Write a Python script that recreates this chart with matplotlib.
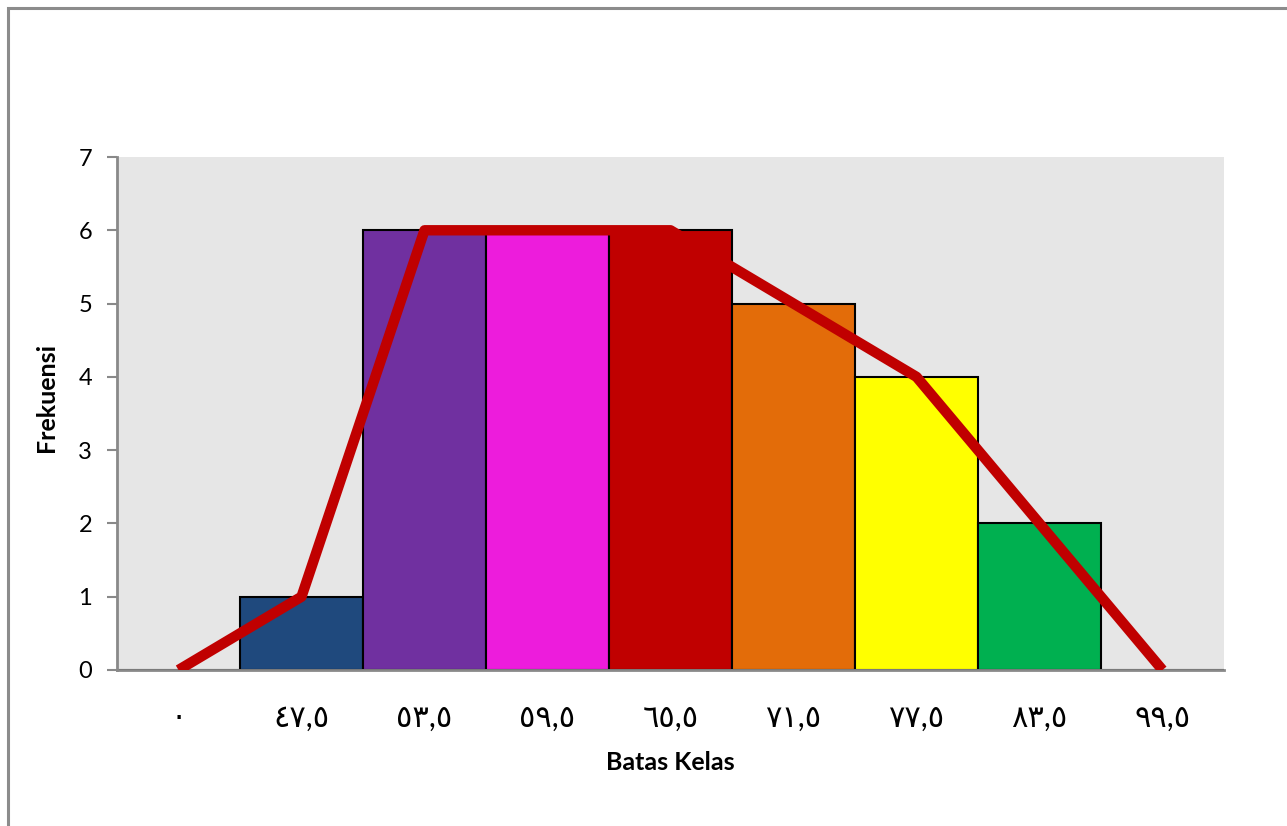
import matplotlib.pyplot as plt
from matplotlib.patches import Rectangle

# class boundaries (Arabic-Indic digits as in the original) and frequencies
batas_kelas = ["٠", "٤٧,٥", "٥٣,٥", "٥٩,٥", "٦٥,٥", "٧١,٥", "٧٧,٥", "٨٣,٥", "٩٩,٥"]
frekuensi = [0, 1, 6, 6, 6, 5, 4, 2, 0]
bar_colors = ["#1F497D", "#1F497D", "#7030A0", "#ED1CDC", "#C00000",
              "#E36C09", "#FFFF00", "#00B050", "#00B050"]

plt.rcParams["font.family"] = ["Lato", "DejaVu Sans"]

fig = plt.figure(figsize=(12.87, 8.26), dpi=100)
fig.patch.set_facecolor("white")

# outer chart border (runs off the right/bottom edge like the source)
fig.patches.append(Rectangle((8 / 1287, -0.5), 2.0, 1.5 - 8 / 826,
                             transform=fig.transFigure, fill=False,
                             edgecolor="#8C8C8C", linewidth=2.2))

ax = fig.add_axes([117 / 1287, 1 - 670 / 826, (1224 - 117) / 1287, (670 - 157) / 826])
ax.set_facecolor("#E6E6E6")

x = list(range(len(batas_kelas)))
ax.bar(x, frekuensi, width=1.0, color=bar_colors, edgecolor="black",
       linewidth=1.5, zorder=2)
ax.plot(x, frekuensi, color="#C00000", linewidth=7.5,
        solid_joinstyle="round", solid_capstyle="butt", zorder=3)

ax.set_xlim(-0.5, len(batas_kelas) - 0.5)
ax.set_ylim(0, 7)
ax.set_yticks(range(0, 8))
ax.set_xticks(x)
ax.set_xticklabels(batas_kelas, fontsize=22)

for side in ("top", "right"):
    ax.spines[side].set_visible(False)
for side in ("left", "bottom"):
    ax.spines[side].set_color("#898989")
    ax.spines[side].set_linewidth(2)
ax.tick_params(axis="y", length=7, width=1.5, color="#898989",
               labelsize=17, pad=11)
ax.tick_params(axis="x", length=0, pad=24)

ax.set_ylabel("Frekuensi", fontsize=18, fontweight="bold")
ax.yaxis.set_label_coords(-0.053, 0.532)
ax.set_xlabel("Batas Kelas", fontsize=18, fontweight="bold", labelpad=14)

fig.savefig("out.png", dpi=100)
